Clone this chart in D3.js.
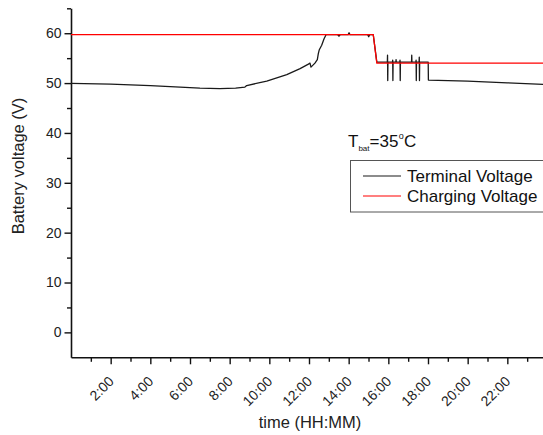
<!DOCTYPE html>
<html>
<head>
<meta charset="utf-8">
<script src="https://cdn.jsdelivr.net/npm/d3@7"></script>
<style>
  html, body { margin: 0; padding: 0; background: #fff; overflow: hidden; }
  svg { display: block; font-family: "Liberation Sans", Arial, sans-serif; }
</style>
</head>
<body>
<svg id="chart" width="543" height="435"></svg>
<script>
// Terminal voltage over one day (hours since midnight, volts)
const terminalHours = [
  0, 2, 4, 5.5, 6.5, 7.5, 8.3, 8.77, 8.86, 9.87, 10.88, 11.55, 11.97, 12.05, 12.10, 12.30,
  12.42, 12.47, 12.52, 12.64, 12.76, 12.86,
  13.45, 13.51, 13.57, 13.97, 14.02, 14.07, 14.96, 15.01, 15.06, 15.24, 15.42,
  15.95, 15.96, 15.97, 15.98,
  16.21, 16.22, 16.23, 16.24,
  16.38, 16.39, 16.40,
  16.58, 16.59, 16.60, 16.61,
  17.17, 17.18, 17.19,
  17.39, 17.40, 17.41, 17.42,
  17.55, 17.56, 17.57, 17.58,
  18.01, 18.02, 20, 22, 24
];
const terminalVolts = [
  49.95, 49.8, 49.5, 49.2, 49.0, 48.9, 49.0, 49.2, 49.5, 50.4, 51.7, 52.9, 53.8, 54.0, 53.2, 54.0,
  54.7, 55.9, 56.7, 57.6, 58.9, 59.7,
  59.7, 59.4, 59.7, 59.7, 60.1, 59.7, 59.7, 59.3, 59.7, 59.7, 54.2,
  54.2, 55.6, 50.5, 54.2,
  54.2, 54.6, 50.5, 54.2,
  54.2, 54.7, 54.2,
  54.2, 54.6, 50.5, 54.2,
  54.2, 55.6, 54.2,
  54.2, 54.6, 50.5, 54.2,
  54.2, 55.2, 50.5, 54.2,
  54.2, 50.6, 50.4, 50.05, 49.7
];

// Charging voltage set point
const chargingHours = [0, 15.24, 15.42, 24];
const chargingVolts = [59.7, 59.7, 54.0, 54.0];

// Axis ticks
const majorHourTicks = [2, 4, 6, 8, 10, 12, 14, 16, 18, 20, 22];
const minorHourTicks = [1, 3, 5, 7, 9, 11, 13, 15, 17, 19, 21, 23];
const voltTicks = [0, 10, 20, 30, 40, 50, 60];
const minorVoltTicks = [5, 15, 25, 35, 45, 55, 65];

const legendLabels = ["Terminal Voltage", "Charging Voltage"];
const seriesColors = ["#1a1a1a", "#ff0000"];

const svg = d3.select("#chart");

const x = d3.scaleLinear().domain([0, 24]).range([71, 547]);
const y = d3.scaleLinear().domain([-5, 65]).range([357.3, 8.3]);

const tickFont = 14;

// Y axis
const yAxis = svg.append("g").attr("transform", `translate(${x(0)},0)`)
  .call(d3.axisLeft(y).tickValues(voltTicks).tickSize(6.5).tickSizeOuter(0).tickPadding(3));
svg.append("g").attr("transform", `translate(${x(0)},0)`)
  .call(d3.axisLeft(y).tickValues(minorVoltTicks).tickSize(4).tickSizeOuter(0).tickFormat(""))
  .select(".domain").remove();

// X axis
const xAxis = svg.append("g").attr("transform", `translate(0,${y(-5)})`)
  .call(d3.axisBottom(x).tickValues(majorHourTicks).tickSize(7).tickSizeOuter(0)
    .tickFormat(d => d + ":00"));
svg.append("g").attr("transform", `translate(0,${y(-5)})`)
  .call(d3.axisBottom(x).tickValues(minorHourTicks).tickSize(4.5).tickSizeOuter(0).tickFormat(""))
  .select(".domain").remove();

svg.selectAll(".domain").attr("stroke", "#111").attr("stroke-width", 1.6);
svg.selectAll(".tick line").attr("stroke", "#111").attr("stroke-width", 1.4);

yAxis.selectAll(".tick text")
  .attr("font-size", tickFont).attr("fill", "#222")
  .attr("font-family", "Liberation Sans, Arial, sans-serif");

xAxis.selectAll(".tick text")
  .attr("font-size", tickFont).attr("fill", "#222")
  .attr("font-family", "Liberation Sans, Arial, sans-serif")
  .attr("text-anchor", "end")
  .attr("y", 0).attr("dy", 0)
  .attr("transform", "translate(3.5,25) rotate(-45)");

// Axis titles
svg.append("text")
  .attr("transform", "translate(24,166) rotate(-90)")
  .attr("text-anchor", "middle")
  .attr("font-size", 16.5).attr("fill", "#222")
  .text("Battery voltage (V)");

svg.append("text")
  .attr("x", 310).attr("y", 428)
  .attr("text-anchor", "middle")
  .attr("font-size", 16.5).attr("fill", "#222")
  .text("time (HH:MM)");

// Series lines
const line = d3.line().x(d => x(d[0])).y(d => y(d[1]));
const terminal = d3.zip(terminalHours, terminalVolts);
const charging = d3.zip(chargingHours, chargingVolts);

svg.append("path").datum(terminal)
  .attr("fill", "none").attr("stroke", seriesColors[0]).attr("stroke-width", 1.3)
  .attr("stroke-linejoin", "round")
  .attr("d", line);

svg.append("path").datum(charging)
  .attr("fill", "none").attr("stroke", seriesColors[1]).attr("stroke-width", 1.3)
  .attr("d", line);

// Temperature annotation
const ann = svg.append("text").attr("x", 348).attr("y", 147.3).attr("fill", "#111").attr("font-size", 17);
ann.append("tspan").text("T");
ann.append("tspan").attr("font-size", 8).attr("dy", 3.5).text("bat");
ann.append("tspan").attr("font-size", 17).attr("dy", -3.5).text("=35");
ann.append("tspan").attr("font-size", 9).attr("dy", -8).attr("dx", 0.5).text("o");
ann.append("tspan").attr("font-size", 17).attr("dy", 8).text("C");

// Legend
const legend = svg.append("g");
legend.append("rect")
  .attr("x", 350.5).attr("y", 160.5).attr("width", 230).attr("height", 51.5)
  .attr("fill", "#fff").attr("stroke", "#555").attr("stroke-width", 1);

legendLabels.forEach((label, i) => {
  const ly = 176 + i * 20;
  legend.append("line")
    .attr("x1", 363).attr("x2", 401).attr("y1", ly).attr("y2", ly)
    .attr("stroke", seriesColors[i]).attr("stroke-width", 1.2);
  legend.append("text")
    .attr("x", 407).attr("y", ly + 5.8)
    .attr("font-size", 17).attr("fill", "#111")
    .text(label);
});
</script>
</body>
</html>
